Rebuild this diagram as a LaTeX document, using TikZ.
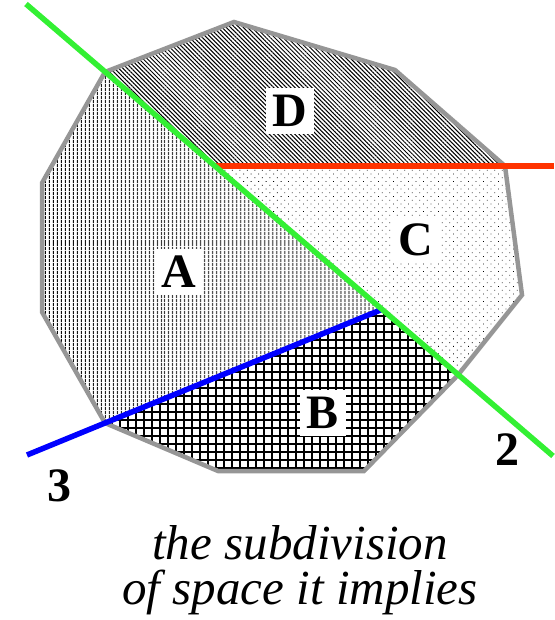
\documentclass[tikz,border=0pt]{standalone}
\usepackage{fontspec}
\setmainfont{Liberation Serif}
\usetikzlibrary{patterns.meta}
\definecolor{cutgreen}{RGB}{51,240,51}
\definecolor{cutred}{RGB}{255,51,0}
\definecolor{cutblue}{RGB}{0,0,255}
\definecolor{rimgray}{RGB}{150,150,150}

\begin{document}
\begin{tikzpicture}[
  x=1pt, y=-1pt,
  rim/.style  = {draw=rimgray, line width=4.5pt, line join=miter},
  cut/.style  = {line width=5.5pt},
  cellA/.style = {pattern={Lines[angle=90, distance=4pt, line width=1.2pt]}},
  cellB/.style = {pattern={Hatch[distance=8pt, line width=1.3pt]}},
  cellC/.style = {pattern={Dots[distance=5.3pt, angle=45, radius=0.6pt]}},
  cellD/.style = {pattern={Lines[angle=-45, distance=3pt, line width=1pt]}},
  lbl/.style  = {fill=white, inner sep=7pt,
                 font=\fontsize{48}{48}\selectfont\bfseries},
  num/.style  = {inner sep=0pt, font=\fontsize{48}{48}\selectfont\bfseries},
]
\useasboundingbox (0,0) rectangle (554,620);

% outline of the cell
\coordinate (p1) at (105,72);
\coordinate (p2) at (234,22);
\coordinate (p3) at (395,70);
\coordinate (p4) at (505,166);
\coordinate (p5) at (522,295);
\coordinate (p6) at (458,375);
\coordinate (p7) at (364,471);
\coordinate (p8) at (218,471);
\coordinate (p9) at (105,423);
\coordinate (p10) at (42,312);
\coordinate (p11) at (42,183);

% the three cutting lines
\coordinate (gs) at (26,4);    \coordinate (ge) at (553,456);
\coordinate (rs) at (214.5,166); \coordinate (re) at (554,166);
\coordinate (bs) at (27,455);  \coordinate (be) at (381.7,309.5);

% regions
\begin{scope}
  \clip (p1) -- (p2) -- (p3) -- (p4) -- (p5) -- (p6) -- (p7) -- (p8)
        -- (p9) -- (p10) -- (p11) -- cycle;
  \begin{scope}
    \clip (0,-18) -- (600,497) -- (0,497) -- cycle;
    \fill[cellA] (0,466) -- (600,220) -- (600,-18) -- (0,-18) -- cycle;
    \fill[cellB] (0,466) -- (600,220) -- (600,497) -- (0,497) -- cycle;
  \end{scope}
  \begin{scope}
    \clip (0,-18) -- (600,497) -- (600,-18) -- cycle;
    \fill[cellD] (0,-18) rectangle (600,166);
    \fill[cellC] (0,166) rectangle (600,497);
  \end{scope}
\end{scope}

\draw[rim] (p1) -- (p2) -- (p3) -- (p4) -- (p5) -- (p6) -- (p7) -- (p8)
      -- (p9) -- (p10) -- (p11) -- cycle;

\draw[cut, cutred] (rs) -- (re);
\draw[cut, cutblue] (bs) -- (be);
\draw[cut, cutgreen] (gs) -- (ge);

\node[lbl] (D) at (290,111) {D};
\node[lbl] (C) at (416,240) {C};
\node[lbl] (A) at (179,272) {A};
\node[lbl] (B) at (323,413) {B};
\node[num] (two) at (507,450) {2};
\node[num] (three) at (59,486) {3};

\node[align=center, font=\fontsize{49}{45}\selectfont\itshape] (caption)
     at (300,570) {the subdivision\\of space it implies};
\end{tikzpicture}
\end{document}
